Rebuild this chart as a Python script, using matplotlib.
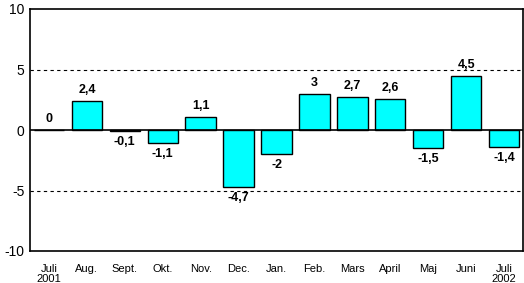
import numpy as np
import matplotlib.pyplot as plt

plt.rcParams['font.family'] = ['Liberation Sans', 'DejaVu Sans']
plt.rcParams['axes.unicode_minus'] = False

months = ["Juli\n2001", "Aug.", "Sept.", "Okt.", "Nov.", "Dec.", "Jan.",
          "Feb.", "Mars", "April", "Maj", "Juni", "Juli\n2002"]
values = [0, 2.4, -0.1, -1.1, 1.1, -4.7, -2, 3, 2.7, 2.6, -1.5, 4.5, -1.4]
labels = ["0", "2,4", "-0,1", "-1,1", "1,1", "-4,7", "-2", "3", "2,7", "2,6",
          "-1,5", "4,5", "-1,4"]

fig = plt.figure(figsize=(5.24, 2.83), dpi=100)
ax = fig.add_axes([30/524, 1-251/283, 493/524, 242/283])

x = np.arange(len(values))
ax.bar(x, values, width=0.8, color='#00ffff', edgecolor='black', linewidth=1, zorder=3)
ax.axhline(0, color='black', linewidth=1.2, zorder=4)
for yv in (5, -5):
    ax.axhline(yv, color='black', linewidth=0.8, linestyle=(0, (3, 3)), zorder=1)

for xi, v, t in zip(x, values, labels):
    if v >= 0:
        ax.text(xi, v + 0.4, t, ha='center', va='bottom', fontsize=9, fontweight='bold')
    else:
        ax.text(xi, v - 0.4, t, ha='center', va='top', fontsize=9, fontweight='bold')

ax.set_xlim(-0.5, len(values) - 0.5)
ax.set_ylim(-10, 10)
ax.set_yticks([-10, -5, 0, 5, 10])
ax.set_xticks(x)
ax.set_xticklabels(months, fontsize=8, linespacing=1.1)
ax.tick_params(axis='both', length=0)
ax.tick_params(axis='x', pad=9)
ax.tick_params(axis='y', labelsize=10, pad=4)
for s in ax.spines.values():
    s.set_linewidth(1.2)

fig.savefig("out.png", dpi=100)
